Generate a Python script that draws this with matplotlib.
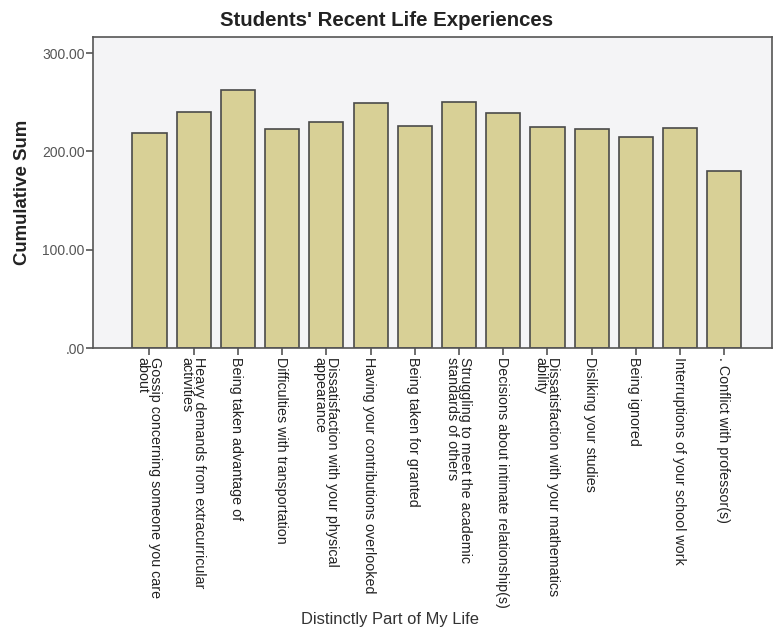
import numpy as np
import matplotlib.pyplot as plt

plt.rcParams['font.family'] = ['Liberation Sans', 'DejaVu Sans']

categories = [
    "Gossip concerning someone you care\nabout",
    "Heavy demands from extracurricular\nactivities",
    "Being taken advantage of",
    "Difficulties with transportation",
    "Dissatisfaction with your physical\nappearance",
    "Having your contributions overlooked",
    "Being taken for granted",
    "Struggling to meet the academic\nstandards of others",
    "Decisions about intimate relationship(s)",
    "Dissatisfaction with your mathematics\nability",
    "Disliking your studies",
    "Being ignored",
    "Interruptions of your school work",
    ". Conflict with professor(s)",
]
cum_sum = [218.7, 240.0, 262.8, 222.5, 229.9, 248.9, 226.1,
           249.9, 238.7, 224.4, 222.7, 214.6, 223.8, 180.4]

fig = plt.figure(figsize=(7.74, 6.32), dpi=100)
ax = fig.add_axes([0.120, 0.449, 0.877, 0.492])
ax.set_facecolor('#f4f4f6')

x = np.arange(len(categories))
ax.bar(x, cum_sum, width=0.77, color='#d8d096', edgecolor='#4a4a4a', linewidth=1.2)

ax.set_xlim(-1.28, len(categories) - 1 + 1.07)
ax.set_ylim(0, 316)
ax.set_yticks([0, 100, 200, 300])
ax.set_yticklabels(['.00', '100.00', '200.00', '300.00'])
ax.set_xticks(x)
ax.set_xticklabels(categories, rotation=-90, rotation_mode='anchor',
                   ha='left', va='center_baseline', fontsize=10.3, color='#222222',
                   linespacing=0.9)

for s in ax.spines.values():
    s.set_color('#555555')
    s.set_linewidth(1.2)
ax.tick_params(axis='y', length=5, width=1.2, color='#555555', labelcolor='#555555',
               labelsize=10, pad=1)
ax.tick_params(axis='x', length=5, width=1.2, color='#555555', pad=1)

fig.text(0.5, 0.968, "Students' Recent Life Experiences", ha='center', va='center',
         fontsize=14.7, fontweight='bold', color='#222222')
ax.set_ylabel('Cumulative Sum', fontsize=13.4, fontweight='bold', color='#222222', labelpad=8)
fig.text(0.504, 0.02, 'Distinctly Part of My Life', ha='center', va='center',
         fontsize=11.9, color='#333333')

fig.savefig('out.png', dpi=100)
